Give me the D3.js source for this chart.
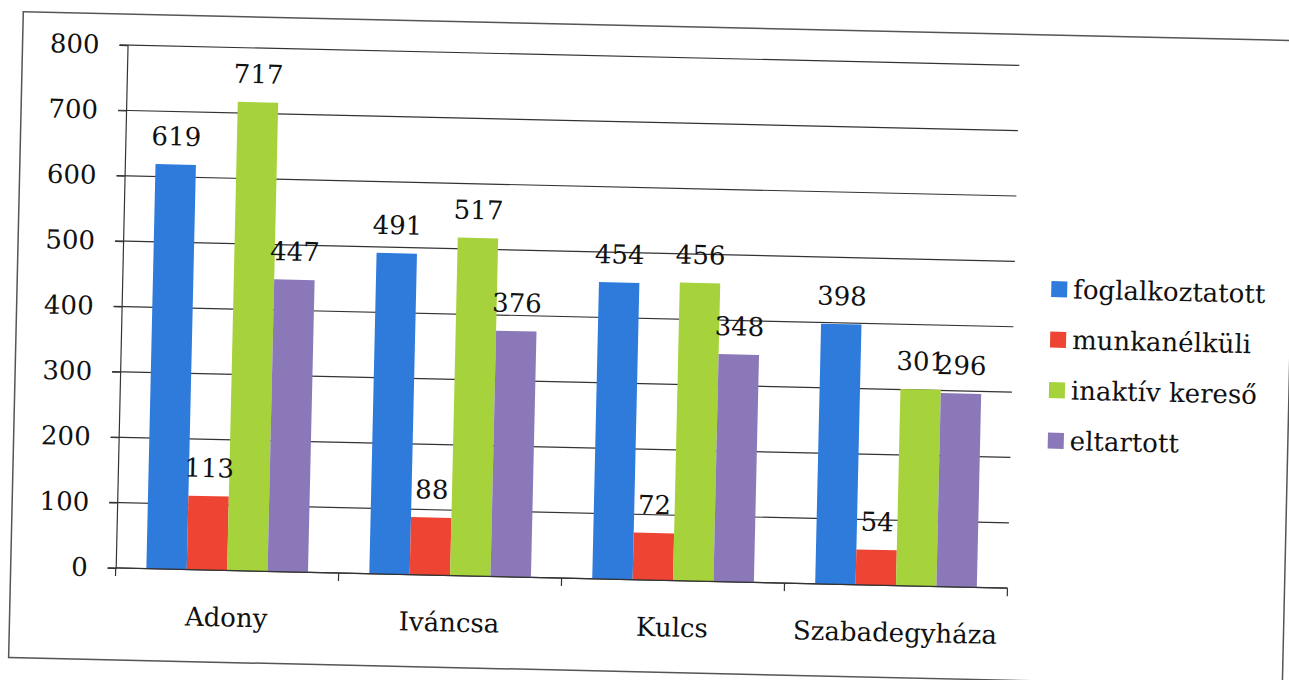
<!DOCTYPE html>
<html>
<head>
<meta charset="utf-8">
<script src="https://cdn.jsdelivr.net/npm/d3@7"></script>
<style>
    html, body { margin: 0; padding: 0; background: #fff; }
    svg text { font-family: "DejaVu Serif", serif; font-size: 26px; fill: #111; }
</style>
</head>
<body>
<div id="chart"></div>
<script>
// data
var categories = ['Adony', 'Iváncsa', 'Kulcs', 'Szabadegyháza'];
var seriesNames = ['foglalkoztatott', 'munkanélküli', 'inaktív kereső', 'eltartott'];
var foglalkoztatott = [619, 491, 454, 398];
var munkanelkuli = [113, 88, 72, 54];
var inaktivKereso = [717, 517, 456, 301];
var eltartott = [447, 376, 348, 296];
var yTicks = [0, 100, 200, 300, 400, 500, 600, 700, 800];
var colors = ['#2f7bdc', '#ee4433', '#a6d23c', '#8b78b8'];

var seriesValues = [foglalkoztatott, munkanelkuli, inaktivKereso, eltartott];

var width = 1289,
    height = 680,
    margin = {top: 57, left: 121, right: 276, bottom: 100};
var plotW = width - margin.left - margin.right,
    plotH = height - margin.top - margin.bottom;

var svg = d3.select('#chart').append('svg')
    .attr('width', width)
    .attr('height', height);

// the scan is tilted a little clockwise
var page = svg.append('g')
    .attr('transform', 'rotate(1.3,650,340)');

page.append('rect')
    .attr('x', 16).attr('y', 26)
    .attr('width', 1274).attr('height', 646)
    .attr('fill', 'none')
    .attr('stroke', '#555')
    .attr('stroke-width', 1.5);

var plot = page.append('g')
    .attr('transform', 'translate(' + margin.left + ',' + margin.top + ')');

var x0 = d3.scaleBand()
    .domain(categories)
    .range([0, plotW])
    .paddingInner(0.275)
    .paddingOuter(0.1375);
var x1 = d3.scaleBand()
    .domain(d3.range(seriesNames.length))
    .range([0, x0.bandwidth()]);
var y = d3.scaleLinear()
    .domain([0, 800])
    .range([plotH, 0]);

// gridlines
plot.selectAll('line.grid')
    .data(yTicks)
    .enter().append('line')
    .attr('class', 'grid')
    .attr('x1', -8)
    .attr('x2', plotW)
    .attr('y1', function (d) { return y(d); })
    .attr('y2', function (d) { return y(d); })
    .attr('stroke', '#333')
    .attr('stroke-width', 1.2);

// y axis
var yAxis = d3.axisLeft(y).tickValues(yTicks).tickSize(8).tickPadding(20);
var yAxisG = plot.append('g').call(yAxis);
yAxisG.attr('font-family', null).attr('font-size', null);
yAxisG.select('.domain').attr('stroke', '#333').attr('stroke-width', 1.2);
yAxisG.selectAll('.tick line').attr('stroke', '#333');
yAxisG.selectAll('.tick text').attr('fill', '#111');

// bars
var groups = plot.selectAll('g.cat')
    .data(categories)
    .enter().append('g')
    .attr('class', 'cat')
    .attr('transform', function (d) { return 'translate(' + x0(d) + ',0)'; });

groups.selectAll('rect')
    .data(function (d, ci) {
        return seriesValues.map(function (vals, si) { return {s: si, v: vals[ci]}; });
    })
    .enter().append('rect')
    .attr('x', function (d) { return x1(d.s); })
    .attr('width', x1.bandwidth())
    .attr('y', function (d) { return y(d.v); })
    .attr('height', function (d) { return plotH - y(d.v); })
    .attr('fill', function (d) { return colors[d.s]; });

groups.selectAll('text.val')
    .data(function (d, ci) {
        return seriesValues.map(function (vals, si) { return {s: si, v: vals[ci]}; });
    })
    .enter().append('text')
    .attr('class', 'val')
    .attr('x', function (d) { return x1(d.s) + x1.bandwidth() / 2; })
    .attr('y', function (d) { return y(d.v) - 19; })
    .attr('text-anchor', 'middle')
    .text(function (d) { return d.v; });

// x axis
var xAxisG = plot.append('g')
    .attr('transform', 'translate(0,' + plotH + ')');
xAxisG.append('line')
    .attr('x1', 0).attr('x2', plotW)
    .attr('stroke', '#333').attr('stroke-width', 1.2);
xAxisG.selectAll('line.tick')
    .data(d3.range(categories.length + 1))
    .enter().append('line')
    .attr('class', 'tick')
    .attr('x1', function (i) { return i * x0.step(); })
    .attr('x2', function (i) { return i * x0.step(); })
    .attr('y1', 0).attr('y2', 8)
    .attr('stroke', '#333').attr('stroke-width', 1.2);
xAxisG.selectAll('text')
    .data(categories)
    .enter().append('text')
    .attr('x', function (d) { return x0(d) + x0.bandwidth() / 2; })
    .attr('y', 56)
    .attr('text-anchor', 'middle')
    .text(function (d) { return d; });

// legend
var legend = page.append('g')
    .attr('transform', 'translate(1050,280)');
var items = legend.selectAll('g')
    .data(seriesNames)
    .enter().append('g')
    .attr('transform', function (d, i) { return 'translate(0,' + (i * 50.5) + ')'; });
items.append('rect')
    .attr('x', 0).attr('y', -8)
    .attr('width', 16).attr('height', 16)
    .attr('fill', function (d, i) { return colors[i]; });
items.append('text')
    .attr('x', 22)
    .attr('y', 9)
    .text(function (d) { return d; });
</script>
</body>
</html>
